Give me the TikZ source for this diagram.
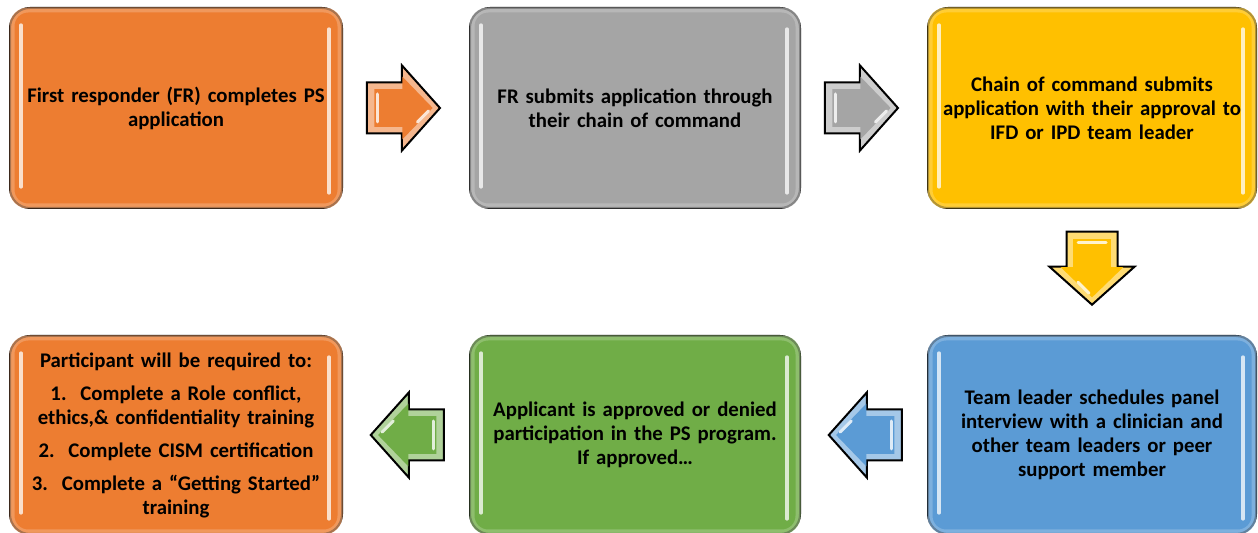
\documentclass[tikz,border=0pt]{standalone}
\usepackage{fontspec}
\setmainfont{Carlito}
\usetikzlibrary{calc}
\definecolor{cOrange}{HTML}{ED7D31}
\definecolor{cGray}{HTML}{A5A5A5}
\definecolor{cYellow}{HTML}{FFC000}
\definecolor{cBlue}{HTML}{5B9BD5}
\definecolor{cGreen}{HTML}{70AD47}

\tikzset{
  stepbox/.style={draw=black, line width=1pt, rounded corners=10pt,
    minimum height=100pt, inner sep=0pt, align=center, text width=162pt,
    font=\fontsize{10.4}{12}\selectfont\bfseries},
  gloss/.style={line width=1.6pt, line cap=round, draw=#1!25!white},
  glow/.style={line width=2.5pt, draw=#1!70!white, rounded corners=8pt, opacity=0.7},
}

% glossy edge light and the two vertical highlights of a step box
\newcommand{\shine}[2]{%
  \draw[glow=#2] ($(#1.north west)+(3,-3)$) rectangle ($(#1.south east)+(-3,3)$);
  \draw[gloss=#2] ($(#1.north west)+(12,-18)$) -- ($(#1.south west)+(12,22)$);
  \draw[gloss=#2] ($(#1.north east)+(-14,-22)$) -- ($(#1.south east)+(-14,16)$);
}

% bevelled block arrow, pointing right before rotation
\newcommand{\blockarr}[3]{%
  \begin{scope}[shift={(#1)}, rotate=#2]
    \draw[line width=1pt, line join=miter, fill=#3!55!white]
      (-36.5,25.5) -- (-1.5,25.5) -- (-1.5,42.5) -- (36.5,0) -- (-1.5,-42.5)
      -- (-1.5,-25.5) -- (-36.5,-25.5) -- cycle;
    \fill[#3, xscale=0.8, yscale=0.74]
      (-36.5,25.5) -- (-1.5,25.5) -- (-1.5,42.5) -- (36.5,0) -- (-1.5,-42.5)
      -- (-1.5,-25.5) -- (-36.5,-25.5) -- cycle;
    \draw[white!80!#3, line width=1.5pt, line cap=round] (-26,14) -- (-26,-14);
    \draw[white!80!#3, line width=1.5pt, line cap=round] (14,-14) -- (25,-3);
  \end{scope}}

\begin{document}
\begin{tikzpicture}[x=0.5pt, y=0.5pt]
\useasboundingbox (0,0) rectangle (1258,-533);

% top row
\node[stepbox, fill=cOrange, minimum width=166pt] (b1) at (176,-108)
  {First responder (FR) completes PS\\application};
\node[stepbox, fill=cGray, minimum width=165pt] (b2) at (635,-108)
  {FR submits application through\\their chain of command};
\node[stepbox, fill=cYellow, minimum width=164pt] (b3) at (1092,-108)
  {Chain of command submits\\application with their approval to\\IFD or IPD team leader};

% bottom row
\node[stepbox, fill=cOrange, minimum width=166pt, minimum height=99pt] (b4) at (176,-435)
  {Participant will be required to:\\[4.5pt]
   1.\ \ Complete a Role conflict,\\ethics,\& confidentiality training\\[4.5pt]
   2.\ \ Complete CISM certification\\[4.5pt]
   3.\ \ Complete a “Getting Started”\\training};
\node[stepbox, fill=cGreen, minimum width=165pt, minimum height=99pt] (b5) at (635,-435)
  {Applicant is approved or denied\\participation in the PS program.\\If approved…};
\node[stepbox, fill=cBlue, minimum width=164pt, minimum height=99pt] (b6) at (1092,-435)
  {Team leader schedules panel\\interview with a clinician and\\other team leaders or peer\\support member};

\shine{b1}{cOrange}
\shine{b2}{cGray}
\shine{b3}{cYellow}
\shine{b4}{cOrange}
\shine{b5}{cGreen}
\shine{b6}{cBlue}

% arrows between the steps
\coordinate (a1) at ($(b1.east)!0.48!(b2.west)$);
\coordinate (a2) at ($(b2.east)!0.48!(b3.west)$);
\coordinate (a3) at ($(b3.south)!0.47!(b6.north)$);
\coordinate (a4) at ($(b6.west)!0.49!(b5.east)$);
\coordinate (a5) at ($(b5.west)!0.49!(b4.east)$);

\blockarr{a1}{0}{cOrange}
\blockarr{a2}{0}{cGray}
\blockarr{a3}{-90}{cYellow}
\blockarr{a4}{180}{cBlue}
\blockarr{a5}{180}{cGreen}
\end{tikzpicture}
\end{document}
